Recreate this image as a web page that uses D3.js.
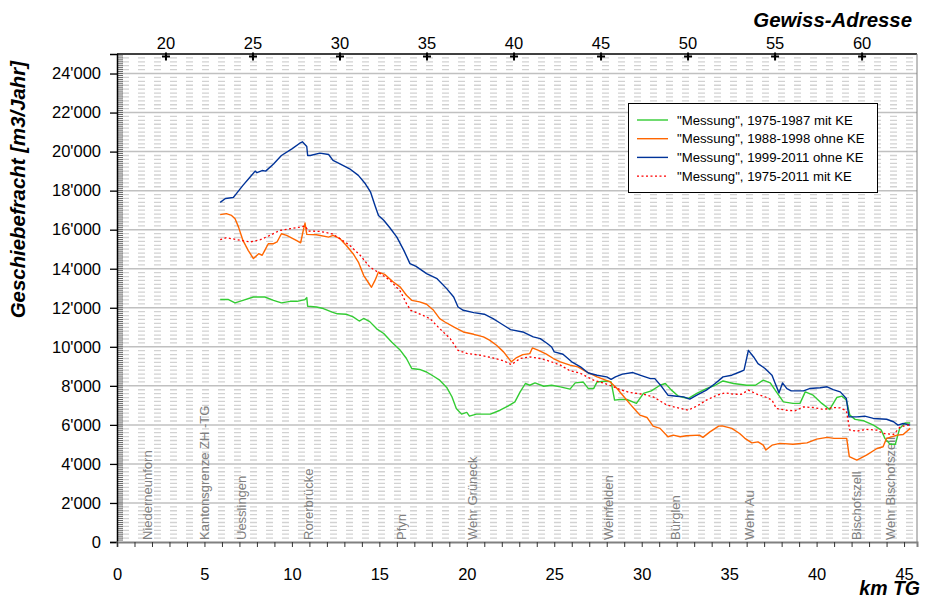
<!DOCTYPE html>
<html>
<head>
<meta charset="utf-8">
<script src="https://cdn.jsdelivr.net/npm/d3@7"></script>
<style>
  body { margin: 0; background: #fff; }
  svg { display: block; }
  text { font-family: "Liberation Sans", Arial, sans-serif; }
</style>
</head>
<body>
<svg id="chart" width="925" height="599"></svg>
<script>
// ---- Geschiebefracht along the Thur (km TG) ----

const seriesNames = [
  '"Messung", 1975-1987 mit KE',
  '"Messung", 1988-1998 ohne KE',
  '"Messung", 1999-2011 ohne KE',
  '"Messung", 1975-2011 mit KE'
];
const seriesColors = ["#33cc33", "#ff6600", "#003399", "#ff0000"];

// 1975-1987 mit KE
const kmGreen = [5.9, 6.35, 6.75, 7.2, 7.8, 8.45, 8.95, 9.4, 9.9, 10.3, 10.75, 10.85, 10.9, 11.4, 11.8, 12.3, 12.6, 13.1, 13.5, 13.85, 14.1, 14.45, 14.85, 15.25, 15.7, 16.2, 16.55, 16.85, 17.3, 17.7, 18.1, 18.45, 18.85, 19.15, 19.4, 19.7, 20.0, 20.15, 20.55, 21.35, 21.9, 22.35, 22.75, 23.05, 23.35, 23.6, 23.9, 24.4, 24.85, 25.35, 25.9, 26.2, 26.65, 26.95, 27.25, 27.45, 28.0, 28.25, 28.45, 28.75, 29.15, 29.7, 30.1, 30.55, 31.05, 31.35, 31.7, 32.1, 32.65, 33.15, 33.7, 34.2, 34.65, 35.25, 36.0, 36.5, 36.95, 37.35, 37.7, 38.1, 38.65, 39.05, 39.35, 39.8, 40.3, 40.75, 41.15, 41.45, 41.7, 41.9, 42.2, 42.7, 43.25, 43.7, 43.9, 44.2, 44.5, 44.75, 45.05, 45.35];
const valGreen = [12420, 12430, 12250, 12380, 12550, 12550, 12380, 12250, 12330, 12330, 12420, 12520, 12080, 12040, 11960, 11780, 11690, 11670, 11530, 11320, 11450, 11290, 10920, 10680, 10250, 9820, 9400, 8890, 8840, 8710, 8490, 8290, 7920, 7440, 6840, 6550, 6640, 6450, 6550, 6550, 6750, 6960, 7180, 7690, 8120, 8030, 8150, 7980, 8030, 7950, 7830, 8150, 8200, 7860, 7860, 8200, 8250, 8200, 7270, 7300, 7300, 7100, 7610, 7740, 8030, 8120, 7780, 7470, 7350, 7610, 7860, 8030, 8250, 8120, 8030, 8030, 8290, 8150, 7690, 7180, 7100, 7100, 7690, 7520, 7100, 6790, 7400, 7470, 7270, 6500, 6280, 6210, 5990, 5730, 5310, 5010, 5010, 5820, 6100, 6100];

// 1988-1998 ohne KE
const kmOrange = [5.9, 6.25, 6.55, 6.75, 6.95, 7.2, 7.5, 7.8, 8.1, 8.3, 8.45, 8.65, 8.95, 9.15, 9.4, 9.7, 10.25, 10.5, 10.65, 10.75, 10.85, 11.4, 12.1, 12.35, 12.75, 13.1, 13.5, 13.8, 14.1, 14.35, 14.55, 14.75, 14.95, 15.3, 15.8, 16.2, 16.55, 16.85, 17.3, 17.7, 18.1, 18.45, 18.75, 19.3, 19.8, 20.4, 20.95, 21.3, 21.7, 22.1, 22.55, 22.85, 23.2, 23.6, 23.75, 24.1, 24.55, 24.95, 25.35, 25.9, 26.35, 26.85, 27.45, 28.2, 28.55, 28.95, 29.35, 29.7, 29.9, 30.3, 30.65, 31.05, 31.5, 31.8, 32.2, 32.55, 33.3, 33.5, 33.9, 34.4, 34.6, 35.15, 35.6, 35.9, 36.3, 36.65, 36.95, 37.1, 37.45, 37.9, 38.65, 39.45, 40.0, 40.6, 41.0, 41.35, 41.72, 41.87, 42.3, 42.85, 43.45, 43.8, 44.0, 44.6, 44.95, 45.35];
const valOrange = [16770, 16820, 16730, 16560, 16130, 15450, 14940, 14520, 14770, 14690, 14940, 15280, 15280, 15370, 15790, 15710, 15450, 15330, 15960, 16340, 15760, 15740, 15620, 15710, 15540, 15200, 14770, 14340, 13660, 13320, 13050, 13400, 13830, 13710, 13320, 13060, 12640, 12380, 12300, 12180, 11870, 11440, 11270, 10990, 10760, 10640, 10510, 10340, 10080, 9740, 9230, 9450, 9600, 9650, 9940, 9820, 9620, 9400, 9230, 9060, 8970, 8710, 8460, 8200, 7900, 7480, 7050, 6700, 6500, 6380, 5935, 5820, 5390, 5475, 5390, 5440, 5475, 5360, 5640, 5935, 5950, 5820, 5560, 5310, 5080, 5130, 4960, 4710, 4960, 5050, 5010, 5080, 5270, 5360, 5310, 5310, 5310, 4370, 4200, 4450, 4790, 4880, 5310, 5475, 5510, 5820];

// 1999-2011 ohne KE
const kmBlue = [5.9, 6.2, 6.65, 6.85, 7.2, 7.6, 7.9, 8.0, 8.3, 8.5, 8.95, 9.4, 10.0, 10.45, 10.6, 10.85, 10.9, 11.05, 11.6, 12.1, 12.35, 12.75, 13.3, 13.8, 14.2, 14.5, 14.75, 14.95, 15.25, 15.6, 16.0, 16.4, 16.75, 17.1, 17.7, 18.3, 18.85, 19.25, 19.5, 19.8, 20.4, 21.0, 21.5, 21.9, 22.5, 23.2, 23.8, 24.2, 24.6, 24.85, 25.0, 25.5, 26.0, 26.5, 26.95, 27.45, 28.0, 28.25, 28.5, 28.9, 29.5, 29.9, 30.5, 30.75, 31.15, 31.5, 32.0, 32.4, 32.75, 33.15, 33.7, 34.2, 34.65, 35.15, 35.6, 35.85, 36.1, 36.4, 36.65, 37.05, 37.45, 37.6, 37.85, 38.05, 38.3, 38.55, 39.25, 39.6, 40.2, 40.6, 40.95, 41.35, 41.7, 41.85, 42.3, 42.75, 43.25, 44.0, 44.4, 44.65, 44.95, 45.35];
const valBlue = [17400, 17600, 17650, 17870, 18270, 18690, 19000, 18920, 19030, 19000, 19370, 19800, 20140, 20430, 20500, 20260, 19800, 19800, 19920, 19850, 19550, 19370, 19120, 18780, 18350, 17920, 17240, 16730, 16480, 16100, 15620, 14940, 14260, 14120, 13750, 13490, 12980, 12550, 12040, 11870, 11750, 11670, 11440, 11220, 10880, 10760, 10510, 10420, 10170, 9990, 9740, 9620, 9230, 8970, 8660, 8545, 8460, 8330, 8460, 8600, 8680, 8545, 8370, 8370, 7950, 7520, 7470, 7435, 7320, 7520, 7780, 8120, 8460, 8545, 8710, 8800, 9820, 9480, 9140, 8890, 8545, 8200, 7640, 8150, 7860, 7740, 7740, 7860, 7900, 7950, 7810, 7690, 7350, 6410, 6410, 6450, 6330, 6290, 6160, 5990, 6070, 5990];

// 1975-2011 mit KE
const kmRed = [5.9, 6.25, 6.85, 7.6, 8.2, 8.75, 9.3, 9.9, 10.45, 10.75, 10.95, 11.6, 12.3, 12.75, 13.3, 13.9, 14.45, 15.05, 15.6, 16.2, 16.55, 16.8, 17.4, 17.9, 18.45, 19.05, 19.5, 20.0, 20.75, 21.5, 22.1, 22.55, 23.05, 23.6, 24.2, 24.75, 25.35, 25.9, 26.45, 27.25, 27.8, 28.4, 28.75, 29.35, 30.1, 30.65, 31.45, 32.0, 32.65, 33.15, 33.7, 34.3, 34.75, 35.25, 35.7, 36.1, 36.6, 37.05, 37.45, 37.7, 38.3, 38.75, 39.25, 39.8, 40.4, 40.95, 41.35, 41.7, 41.9, 42.3, 42.85, 43.45, 43.8, 44.4, 44.75, 45.15, 45.35];
const valRed = [15490, 15590, 15490, 15370, 15490, 15710, 15960, 16050, 16130, 16190, 15930, 15910, 15790, 15540, 15200, 14690, 14090, 13750, 13410, 12850, 12210, 11870, 11650, 11440, 10930, 10420, 9820, 9660, 9570, 9430, 9280, 9090, 9400, 9480, 9400, 9260, 9060, 8770, 8660, 8290, 8150, 7950, 7810, 7650, 7570, 7440, 7010, 6890, 6750, 6960, 7270, 7520, 7640, 7570, 7570, 7780, 7570, 7440, 7270, 6840, 6750, 6720, 6920, 6890, 6790, 6890, 6870, 6720, 5730, 5680, 5770, 5730, 5560, 5510, 5870, 5990, 5990];

// places along the river
const placeNames = ["Niederneunforn", "Kantonsgrenze ZH -TG", "Uesslingen", "Rorerbrücke", "Pfyn", "Wehr Grüneck", "Weinfelden", "Bürglen", "Wehr Au", "Bischofszell", "Wehr Bischofszell"];
const placeKm = [2.0, 5.25, 7.4, 11.2, 16.55, 20.6, 28.35, 32.2, 36.4, 42.55, 44.5];

// axes
const kmTickLabels = [0, 5, 10, 15, 20, 25, 30, 35, 40, 45];
const valueTickLabels = [0, 2000, 4000, 6000, 8000, 10000, 12000, 14000, 16000, 18000, 20000, 22000, 24000];
const gewissTicks = [20, 25, 30, 35, 40, 45, 50, 55, 60];
// Gewiss-Adresse 20 and 60 expressed in km TG
const gewissRef = [20, 60];
const gewissRefKm = [2.8, 42.6];

const W = 925, H = 599;
const plotL = 117, plotR = 917, plotT = 54, plotB = 542;

const x = d3.scaleLinear().domain([0, 45.74]).range([plotL, plotR]);
const y = d3.scaleLinear().domain([0, 25000]).range([plotB, plotT]);
const xg = d3.scaleLinear().domain(gewissRef).range(gewissRefKm.map(x));

const fmt = d3.formatLocale({ decimal: ".", thousands: "'", grouping: [3], currency: ["", ""] }).format(",");

const svg = d3.select("#chart");

// minor dashed gridlines
const minorVals = d3.range(200, 25000, 200).filter(v => v % 2000 !== 0);
svg.append("g").selectAll("line").data(minorVals).join("line")
  .attr("x1", plotL + 1).attr("x2", plotR)
  .attr("y1", d => y(d)).attr("y2", d => y(d))
  .attr("stroke", "#d2d2d2").attr("stroke-width", 1.3)
  .attr("stroke-dasharray", "7,9").attr("stroke-dashoffset", -4);

// major gridlines
svg.append("g").selectAll("line").data(valueTickLabels.filter(v => v > 0)).join("line")
  .attr("x1", plotL).attr("x2", plotR)
  .attr("y1", d => y(d)).attr("y2", d => y(d))
  .attr("stroke", "#c0c0c0").attr("stroke-width", 1.5);

// place labels (vertical)
svg.append("g").selectAll("text").data(placeNames).join("text")
  .attr("transform", (d, i) => `translate(${x(placeKm[i])},${plotB - 2}) rotate(-90)`)
  .attr("font-size", 13).attr("fill", "#808080")
  .text(d => d);

// left axis: fine ruler ticks inside
svg.append("g").selectAll("line").data(d3.range(100, 25000, 100)).join("line")
  .attr("x1", plotL).attr("x2", plotL + 6)
  .attr("y1", d => y(d)).attr("y2", d => y(d))
  .attr("stroke", "#666").attr("stroke-width", 1);

const yAxis = svg.append("g").attr("transform", `translate(${plotL},0)`)
  .call(d3.axisLeft(y).tickValues(valueTickLabels).tickFormat(fmt).tickSize(7).tickPadding(9));
yAxis.select(".domain").attr("stroke", "#000").attr("stroke-width", 1.5);
yAxis.selectAll(".tick line").attr("stroke", "#000").attr("stroke-width", 1.3);
yAxis.selectAll("text").attr("font-size", 16.5).attr("fill", "#000")
  .style("font-family", '"Liberation Sans", Arial, sans-serif');

// bottom axis
const xAxis = svg.append("g").attr("transform", `translate(0,${plotB})`)
  .call(d3.axisBottom(x).tickValues(d3.range(0, 46, 1)).tickFormat(d => kmTickLabels.includes(d) ? d : "").tickSize(5).tickPadding(21));
xAxis.select(".domain").attr("stroke", "#808080").attr("stroke-width", 2);
xAxis.selectAll(".tick line").attr("stroke", "#333").attr("stroke-width", 1);
xAxis.selectAll("text").attr("font-size", 16.5).attr("fill", "#000")
  .style("font-family", '"Liberation Sans", Arial, sans-serif');

// top border and right border
svg.append("line").attr("x1", plotL).attr("x2", plotR).attr("y1", plotT).attr("y2", plotT)
  .attr("stroke", "#000").attr("stroke-width", 1.5);
svg.append("line").attr("x1", plotR).attr("x2", plotR).attr("y1", plotT).attr("y2", plotB)
  .attr("stroke", "#808080").attr("stroke-width", 1);

// top axis: Gewiss-Adresse with plus markers
const gTop = svg.append("g");
gTop.selectAll("path").data(gewissTicks).join("path")
  .attr("d", d => `M${xg(d) - 4},${plotT + 2.5}H${xg(d) + 4}M${xg(d)},${plotT - 1.5}V${plotT + 6.5}`)
  .attr("stroke", "#000").attr("stroke-width", 2);
gTop.selectAll("text").data(gewissTicks).join("text")
  .attr("x", d => xg(d)).attr("y", plotT - 5).attr("text-anchor", "middle")
  .attr("font-size", 16.5).text(d => d);

// series lines
const line = d3.line().x(d => x(d[0])).y(d => y(d[1]));
const seriesData = [
  d3.zip(kmGreen, valGreen),
  d3.zip(kmOrange, valOrange),
  d3.zip(kmBlue, valBlue),
  d3.zip(kmRed, valRed)
];
svg.append("g").selectAll("path").data(seriesData).join("path")
  .attr("d", line)
  .attr("fill", "none")
  .attr("stroke", (d, i) => seriesColors[i])
  .attr("stroke-width", (d, i) => i === 3 ? 1.3 : 1.4)
  .attr("stroke-dasharray", (d, i) => i === 3 ? "2,2.5" : null)
  .attr("stroke-linejoin", "round");

// legend
const lg = svg.append("g");
lg.append("rect").attr("x", 628.5).attr("y", 103.5).attr("width", 249).attr("height", 89)
  .attr("fill", "#fff").attr("stroke", "#000").attr("stroke-width", 1);
seriesNames.forEach((name, i) => {
  const ly = 120 + i * 18.7;
  lg.append("line").attr("x1", 637).attr("x2", 668).attr("y1", ly).attr("y2", ly)
    .attr("stroke", seriesColors[i]).attr("stroke-width", 1.4)
    .attr("stroke-dasharray", i === 3 ? "2,2.5" : null);
  lg.append("text").attr("x", 677).attr("y", ly + 4.6).attr("font-size", 13.2).text(name);
});

// axis titles
svg.append("text").attr("x", 912).attr("y", 27).attr("text-anchor", "end")
  .attr("font-size", 20.4).attr("font-weight", "bold").attr("font-style", "italic")
  .text("Gewiss-Adresse");
svg.append("text").attr("x", 920).attr("y", 594.5).attr("text-anchor", "end")
  .attr("font-size", 19.5).attr("font-weight", "bold").attr("font-style", "italic")
  .text("km TG");
svg.append("text").attr("transform", "translate(25,61) rotate(-90)").attr("text-anchor", "end")
  .attr("font-size", 20.4).attr("font-weight", "bold").attr("font-style", "italic")
  .text("Geschiebefracht [m3/Jahr]");
</script>
</body>
</html>
